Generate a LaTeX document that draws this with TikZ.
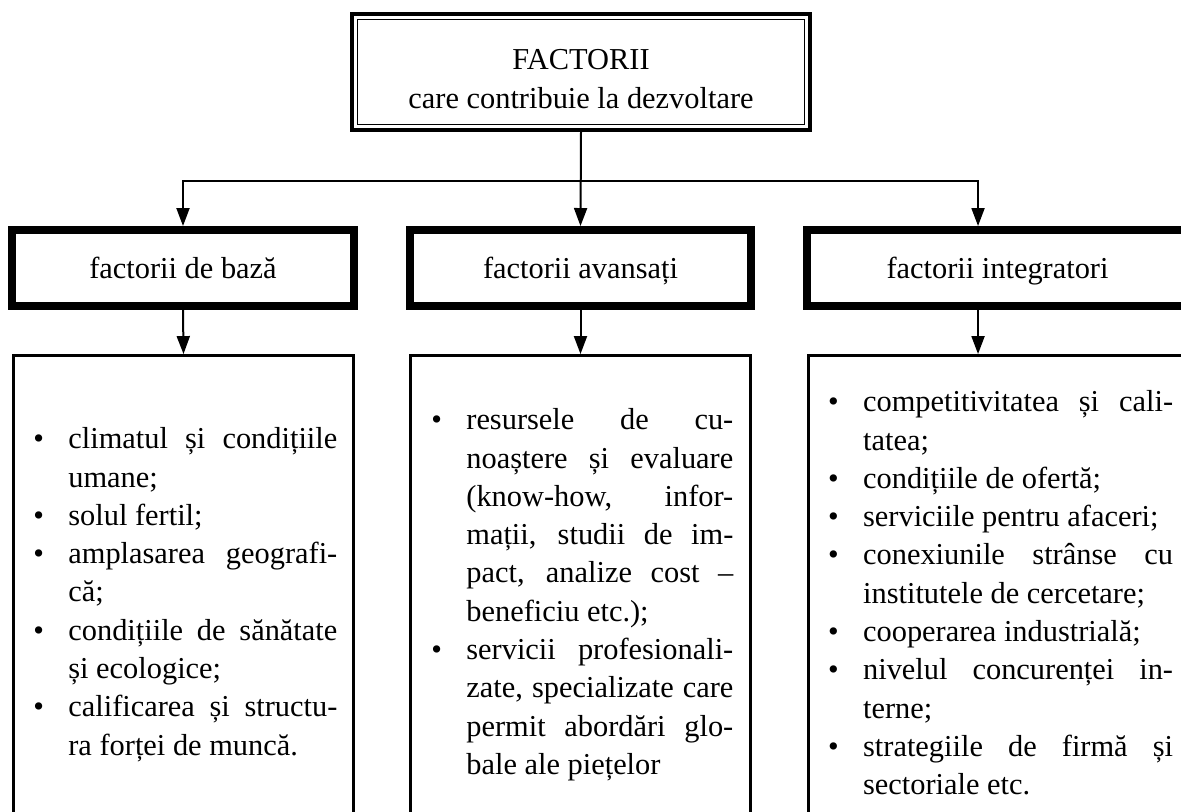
\documentclass[tikz,border=0pt]{standalone}
\usepackage{fontspec}
\setmainfont{Liberation Serif}
\usetikzlibrary{arrows.meta,calc,positioning}
\newenvironment{factlist}{%
	\tolerance=10000 \hbadness=10000 \hyphenpenalty=10000 \exhyphenpenalty=10000
	\begin{list}{\textbullet}{\setlength{\leftmargin}{0.7cm}\setlength{\labelwidth}{0.7cm}\setlength{\labelsep}{0pt}%
		\setlength{\itemsep}{0pt}\setlength{\parsep}{0pt}\setlength{\topsep}{0pt}\setlength{\partopsep}{0pt}%
		\def\makelabel##1{##1\hfil}}}
	{\end{list}}
\tikzset{%
	mainbox/.style  = {draw, rectangle, line width=0.08cm, minimum width=9.16cm, minimum height=2.32cm, inner sep=0pt, align=center, font=\fontsize{17.3}{21.8}\selectfont},
	groupbox/.style = {draw, rectangle, line width=0.16cm, minimum height=1.52cm, inner sep=0pt, text height=12.4pt, text depth=0pt, font=\fontsize{17.3}{21.8}\selectfont},
	listbox/.style  = {draw, rectangle, line width=0.06cm, minimum height=10.5cm, inner sep=0pt},
	listtext/.style = {anchor=north west, inner sep=0pt, align=justify, font=\fontsize{17.3}{21.8}\selectfont},
	arrow/.style    = {line width=0.04cm, -{Triangle[width=0.26cm,length=0.36cm]}},
}

\begin{document}
\begin{tikzpicture}[x=0.02cm,y=-0.02cm]
	\useasboundingbox (0,0) rectangle (1181,812);
	\clip (0,0) rectangle (1181,812);
	
	\node[mainbox] (title) at (581,72) {\rule{0pt}{19.5pt}FACTORII\\care contribuie la dezvoltare};
	\draw[line width=0.03cm] ($(title.north west)+(7.5,7.5)$) rectangle ($(title.south east)+(-7.5,-7.5)$);
	
	\node[groupbox, minimum width=6.84cm] (base) at (183,268) {factorii de bază};
	\node[groupbox, minimum width=6.82cm] (adv) at (580.5,268) {factorii avansați};
	\node[groupbox, minimum width=7.62cm] (integ) at (997.5,268) {factorii integratori};
	
	\node[listbox, minimum width=6.8cm] (baselist) at (183.5,618) {};
	\node[listbox, minimum width=6.8cm] (advlist) at (580.5,618) {};
	\node[listbox, minimum width=7.63cm] (integlist) at (999,618) {};
	
	\coordinate (bus) at ($(title.south)+(0,49)$);
	\coordinate (integin) at ($(integ.north west)+(175,0)$);
	\draw[arrow] (title.south) -- (adv.north);
	\draw[arrow] (bus) -| (base.north);
	\draw[arrow] (bus) -| (integin);
	\draw[arrow] (base.south) -- (baselist.north);
	\draw[arrow] (adv.south) -- (advlist.north);
	\draw[arrow] (integin |- integ.south) -- (integin |- integlist.north);
	
	\node[listtext, text width=6.08cm] (basetext) at ($(baselist.north west)+(21,56)$) {\begin{factlist}
		\item\strut climatul și condițiile\linebreak umane;
		\item solul fertil;
		\item amplasarea geografi-\linebreak că;
		\item condițiile de sănătate\linebreak și ecologice;
		\item calificarea și structu-\linebreak ra forței de muncă.
	\end{factlist}};
	\node[listtext, text width=6.04cm] (advtext) at ($(advlist.north west)+(22,37)$) {\begin{factlist}
		\item\strut resursele de cu-\linebreak noaștere și evaluare\linebreak (know-how, infor-\linebreak mații, studii de im-\linebreak pact, analize cost –\linebreak beneficiu etc.);
		\item servicii profesionali-\linebreak zate, specializate care\linebreak permit abordări glo-\linebreak bale ale piețelor
	\end{factlist}};
	\node[listtext, text width=6.9cm] (integtext) at ($(integlist.north west)+(21,19)$) {\begin{factlist}
		\item\strut competitivitatea și cali-\linebreak tatea;
		\item condițiile de ofertă;
		\item serviciile pentru afaceri;
		\item conexiunile strânse cu\linebreak institutele de cercetare;
		\item cooperarea industrială;
		\item nivelul concurenței in-\linebreak terne;
		\item strategiile de firmă și\linebreak sectoriale etc.
	\end{factlist}};
\end{tikzpicture}
\end{document}
